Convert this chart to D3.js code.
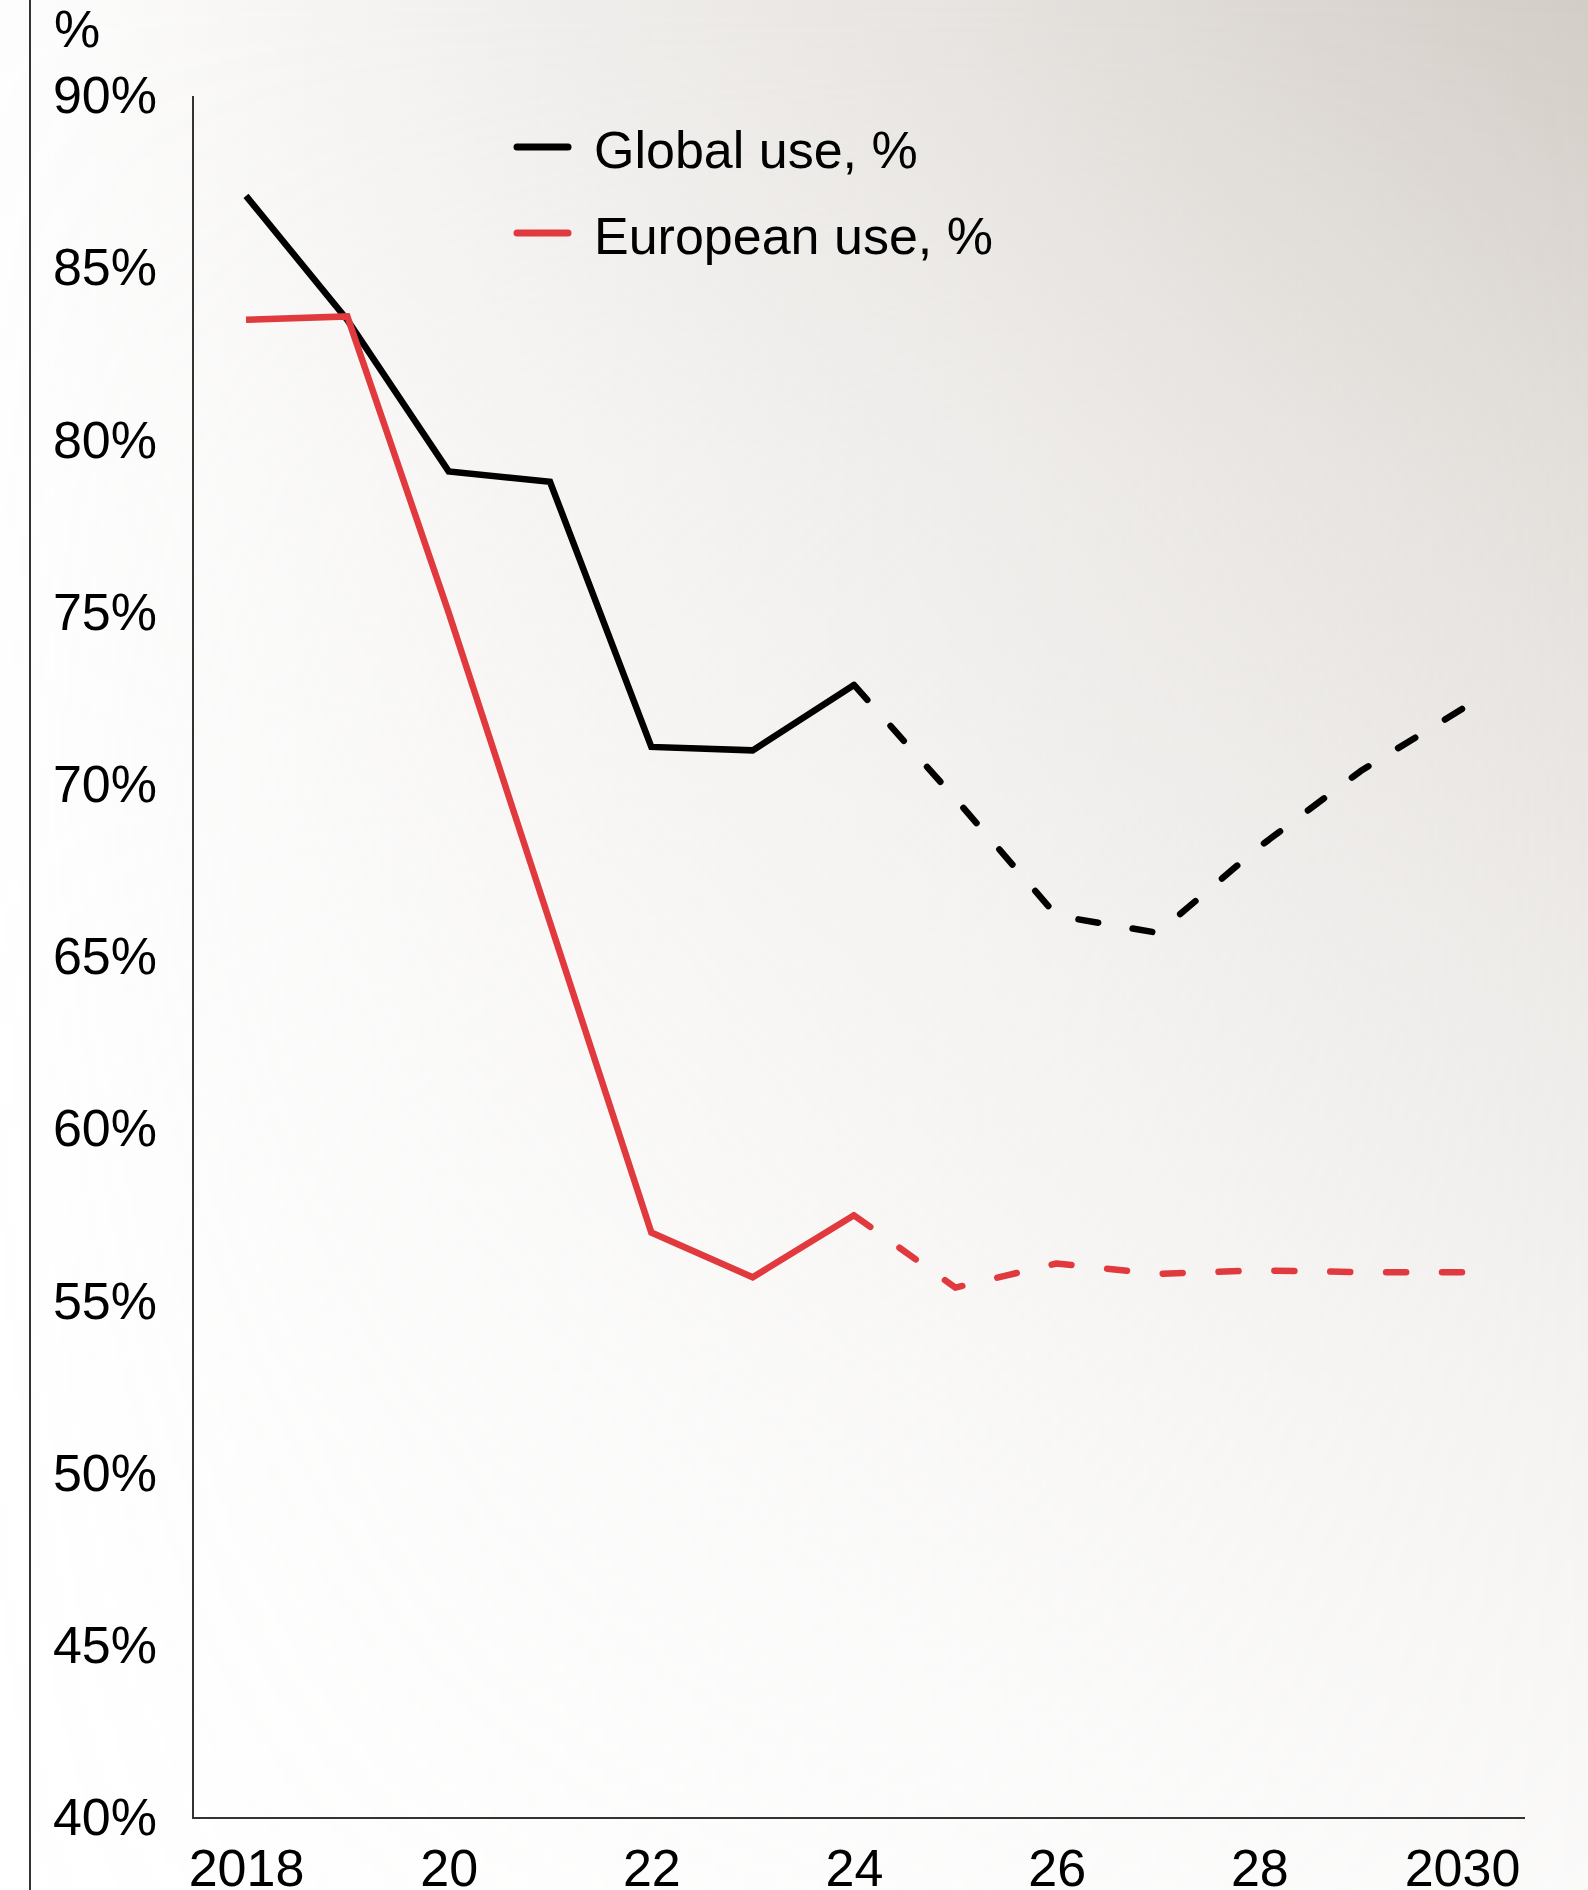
<!DOCTYPE html>
<html>
<head>
<meta charset="utf-8">
<script src="https://cdn.jsdelivr.net/npm/d3@7"></script>
<style>
  html, body { margin: 0; padding: 0; background: #ffffff; }
  svg { display: block; }
  text { font-family: "Liberation Sans", Arial, sans-serif; fill: #000; }
</style>
</head>
<body>
<script>
// ---- data ----
const years = [2018, 2019, 2020, 2021, 2022, 2023, 2024, 2025, 2026, 2027, 2028, 2029, 2030];
const globalUse = [87.1, 83.5, 79.1, 78.8, 71.1, 71.0, 72.9, 69.6, 66.2, 65.7, 68.2, 70.4, 72.2];
const europeanUse = [83.5, 83.6, 75.0, 66.0, 57.0, 55.7, 57.5, 55.4, 56.1, 55.8, 55.9, 55.85, 55.85];
const lastActualYear = 2024;
const xTickValues = [2018, 2020, 2022, 2024, 2026, 2028, 2030];
const xTickLabels = ["2018", "20", "22", "24", "26", "28", "2030"];
const yTickValues = [40, 45, 50, 55, 60, 65, 70, 75, 80, 85, 90];
const seriesNames = ["Global use, %", "European use, %"];
const seriesColors = ["#000000", "#e0393e"];
const unitLabel = "%";

// ---- layout ----
const W = 1588, H = 1890;
const svg = d3.select("body").append("svg").attr("width", W).attr("height", H);

// background: warm grey that is strongest in the top-right corner
const defs = svg.append("defs");
const gh = defs.append("linearGradient").attr("id", "bgH")
  .attr("x1", 0).attr("x2", 1).attr("y1", 0).attr("y2", 0);
[[0, 0.03], [0.3, 0.3], [0.6, 0.55], [0.8, 0.78], [1, 1]]
  .forEach(([o, a]) => gh.append("stop").attr("offset", o).attr("stop-color", "#d3cdc7").attr("stop-opacity", a));
const gv = defs.append("linearGradient").attr("id", "bgV")
  .attr("x1", 0).attr("x2", 0).attr("y1", 0).attr("y2", 1);
[[0, 1], [0.25, 0.64], [0.5, 0.42], [0.75, 0.24], [1, 0.1]]
  .forEach(([o, a]) => gv.append("stop").attr("offset", o).attr("stop-color", "#ffffff").attr("stop-opacity", a));
const mask = defs.append("mask").attr("id", "bgMask")
  .attr("maskUnits", "userSpaceOnUse").attr("x", 0).attr("y", 0).attr("width", W).attr("height", H);
mask.append("rect").attr("width", W).attr("height", H).attr("fill", "url(#bgV)");
svg.append("rect").attr("width", W).attr("height", H).attr("fill", "#ffffff");
svg.append("rect").attr("width", W).attr("height", H).attr("fill", "url(#bgH)").attr("mask", "url(#bgMask)");

// left frame line
svg.append("line").attr("x1", 30).attr("x2", 30).attr("y1", 0).attr("y2", H)
  .attr("stroke", "#333").attr("stroke-width", 2);

const axisX = 193, axisEndX = 1525;
const x = d3.scaleLinear().domain([2018, 2030]).range([246, 1462]);
const y = d3.scaleLinear().domain([40, 90]).range([1818, 96]);

// axis lines
svg.append("line").attr("x1", axisX).attr("x2", axisX).attr("y1", y(90)).attr("y2", y(40))
  .attr("stroke", "#333").attr("stroke-width", 2);
svg.append("line").attr("x1", axisX - 1).attr("x2", axisEndX).attr("y1", y(40)).attr("y2", y(40))
  .attr("stroke", "#333").attr("stroke-width", 2);

// y axis labels
const yAxis = d3.axisLeft(y).tickValues(yTickValues).tickSize(0).tickPadding(36)
  .tickFormat(d => d + "%");
const gy = svg.append("g").attr("transform", `translate(${axisX},0)`).call(yAxis);
gy.select(".domain").remove();
gy.selectAll("text").attr("font-size", 52).attr("font-family", '"Liberation Sans", Arial, sans-serif').attr("fill", "#000");

// x axis labels
const xAxis = d3.axisBottom(x).tickValues(xTickValues).tickSize(0).tickPadding(31)
  .tickFormat((d, i) => xTickLabels[i]);
const gx = svg.append("g").attr("transform", `translate(0,${y(40)})`).call(xAxis);
gx.select(".domain").remove();
gx.selectAll("text").attr("font-size", 52).attr("font-family", '"Liberation Sans", Arial, sans-serif').attr("fill", "#000");

// unit label
svg.append("text").attr("x", 54).attr("y", 47).attr("font-size", 52).text(unitLabel);

// lines
const line = d3.line().x(d => x(d[0])).y(d => y(d[1]));
const dashLen = 20, targetPeriod = 54;
[globalUse, europeanUse].forEach((vals, i) => {
  const pts = years.map((yr, j) => [yr, vals[j]]);
  const actual = pts.filter(p => p[0] <= lastActualYear);
  const forecast = pts.filter(p => p[0] >= lastActualYear);
  svg.append("path").attr("d", line(actual)).attr("fill", "none")
    .attr("stroke", seriesColors[i]).attr("stroke-width", 6.5)
    .attr("stroke-linejoin", "miter");
  const fp = svg.append("path").attr("d", line(forecast)).attr("fill", "none")
    .attr("stroke", seriesColors[i]).attr("stroke-width", 6.5)
    .attr("stroke-linecap", "round").attr("stroke-linejoin", "round");
  const L = fp.node().getTotalLength();
  const n = Math.max(1, Math.round((L - dashLen) / targetPeriod));
  const gap = (L - dashLen) / n - dashLen;
  fp.attr("stroke-dasharray", `${dashLen},${gap}`);
});

// legend
const legY = [147, 233];
seriesNames.forEach((name, i) => {
  svg.append("line").attr("x1", 517).attr("x2", 568).attr("y1", legY[i]).attr("y2", legY[i])
    .attr("stroke", seriesColors[i]).attr("stroke-width", 7).attr("stroke-linecap", "round");
  svg.append("text").attr("x", 594).attr("y", legY[i] + 21).attr("font-size", 52).text(name);
});
</script>
</body>
</html>
